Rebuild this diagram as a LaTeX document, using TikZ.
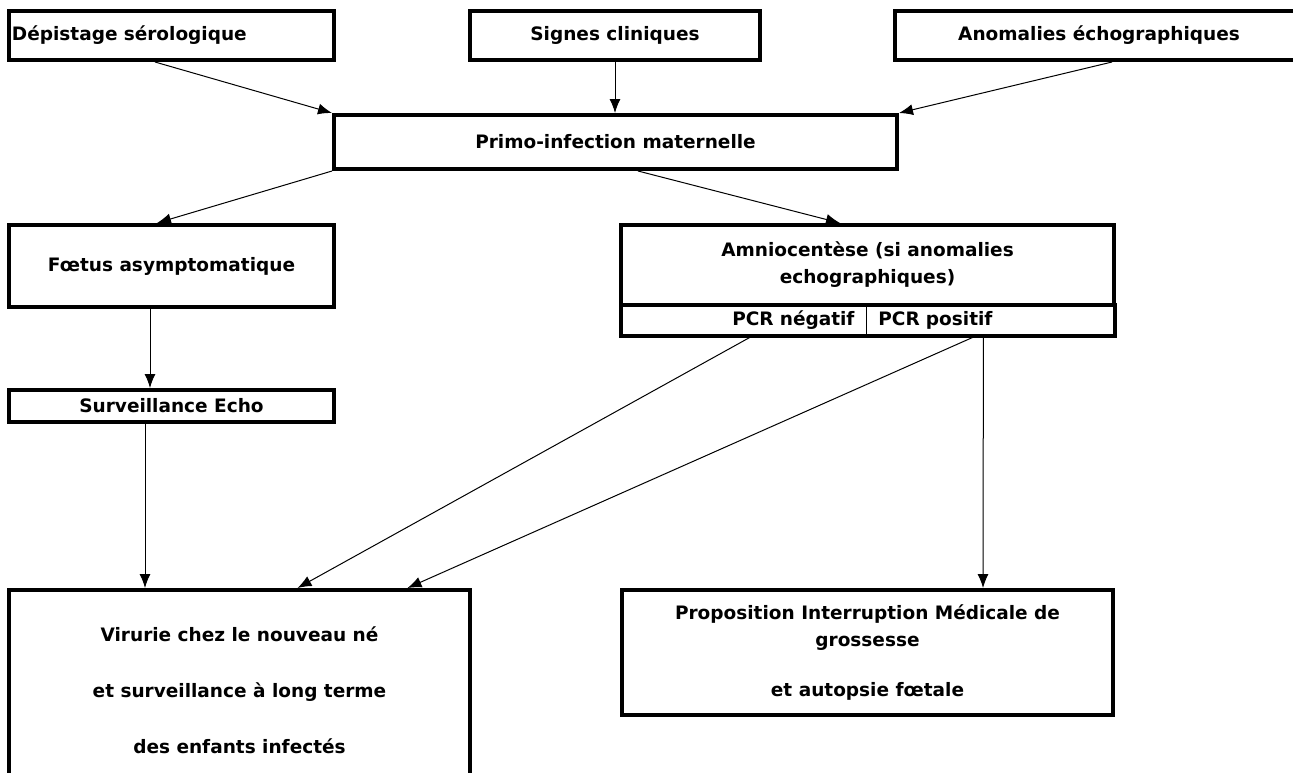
\documentclass[tikz,border=0pt]{standalone}
\usepackage{fontspec}
\setmainfont{DejaVu Sans}
\usetikzlibrary{positioning, arrows.meta}

\begin{document}
\begin{tikzpicture}[x=1pt, y=-1pt,
    texte/.style={font=\bfseries\fontsize{18.5}{27}\selectfont},
    boite/.style={texte, draw, line width=4pt, align=center},
    fleche/.style={-{Latex[length=14pt, width=11pt]}, line width=1pt}]
    \useasboundingbox (0,0) rectangle (1293,772);
    \clip (0,0) rectangle (1293,772);

    \node[boite, text width=319pt, inner xsep=3pt, align=left, minimum height=49pt] (depist) at (171.5,35.5) {Dépistage sérologique};
    \node[boite, minimum width=290pt, minimum height=49pt] (signes) at (615,35.5) {Signes cliniques};
    \node[boite, minimum width=408pt, minimum height=49pt] (anomal) at (1099,35.5) {Anomalies échographiques};
    \node[boite, minimum width=563pt, minimum height=54pt] (primo) at (615.5,142) {Primo-infection maternelle};
    \node[boite, minimum width=325pt, minimum height=82pt] (foetus) at (171.5,266) {Fœtus asymptomatique};
    \node[boite, minimum width=493pt, minimum height=80pt] (amnio) at (867.5,265) {Amniocentèse (si anomalies\\echographiques)};
    \node[texte, text width=222pt, inner xsep=11.5pt, align=right, minimum height=31pt] (pcrneg) at (743.5,320.5) {PCR négatif};
    \node[texte, text width=224pt, inner xsep=12pt, align=left, minimum height=31pt, right=0pt of pcrneg] (pcrpos) {PCR positif};
    \node[boite, minimum width=325pt, minimum height=32pt] (surv) at (171.5,406) {Surveillance Echo};
    \node[boite, minimum width=461pt, minimum height=200pt] (virurie) at (239.5,690) {Virurie chez le nouveau né\\[29pt]et surveillance à long terme\\[29pt]des enfants infectés};
    \node[boite, minimum width=491pt, minimum height=125pt] (propos) at (867.5,652.5) {Proposition Interruption Médicale de\\grossesse\\[23pt]et autopsie fœtale};

    \draw[line width=4pt] (pcrneg.north west) rectangle (pcrpos.south east);
    \draw[line width=1pt] (pcrneg.north east) -- (pcrneg.south east);

    \draw[fleche] ([xshift=-16.5pt]depist.south) -- (primo.north west);
    \draw[fleche] (signes.south) -- (signes.south |- primo.north);
    \draw[fleche] ([xshift=13pt]anomal.south) -- (primo.north east);
    \draw[fleche] (primo.south west) -- ([xshift=-14.5pt]foetus.north);
    \draw[fleche] ([xshift=22.5pt]primo.south) -- ([xshift=-27.5pt]amnio.north);
    \draw[fleche] ([xshift=-21.5pt]foetus.south) -- ([xshift=-21.5pt]surv.north);
    \draw[fleche] ([xshift=-26.5pt]surv.south) -- ([xshift=-94.5pt]virurie.north);
    \draw[fleche] ([xshift=8.5pt]pcrneg.south) -- ([xshift=58pt]virurie.north);
    \draw[fleche] ([xshift=-15pt]pcrpos.south) -- ([xshift=168pt]virurie.north);
    \draw[fleche] ([xshift=-7pt]pcrpos.south) -- ([xshift=115.5pt]propos.north);
\end{tikzpicture}
\end{document}
